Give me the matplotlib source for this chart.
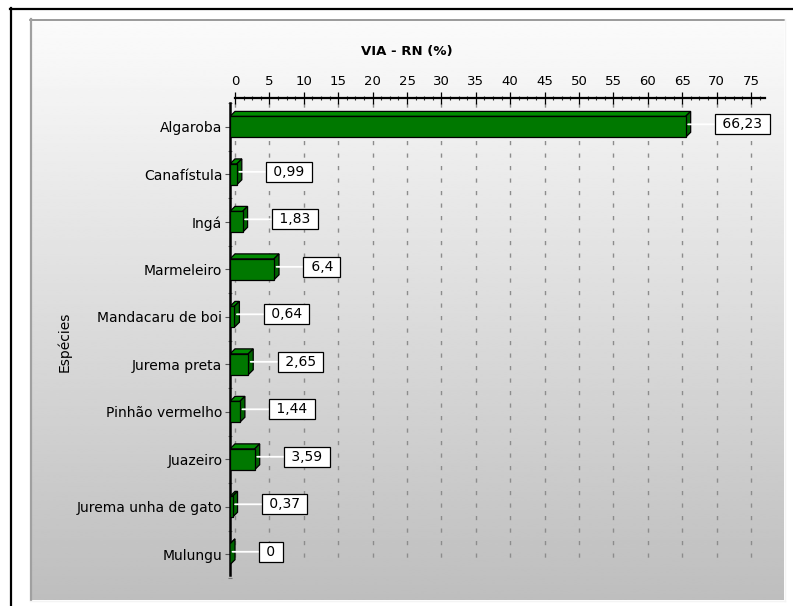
import numpy as np
import matplotlib
matplotlib.use("Agg")
import matplotlib.pyplot as plt
from matplotlib.patches import Rectangle, Polygon
from matplotlib.lines import Line2D

# --- data ---------------------------------------------------------------
especies = [
    "Algaroba", "Canafístula", "Ingá", "Marmeleiro", "Mandacaru de boi",
    "Jurema preta", "Pinhão vermelho", "Juazeiro", "Jurema unha de gato",
    "Mulungu",
]
via_rn = [66.23, 0.99, 1.83, 6.4, 0.64, 2.65, 1.44, 3.59, 0.37, 0.0]
x_ticks = [0, 5, 10, 15, 20, 25, 30, 35, 40, 45, 50, 55, 60, 65, 70, 75]

titulo = "VIA - RN (%)"
rotulo_y = "Espécies"

# --- figure / layout (pixel helpers) -----------------------------------
W, H, DPI = 793, 606, 100
plt.rcParams["font.family"] = ["DejaVu Sans"]
FS = 10

fig = plt.figure(figsize=(W / DPI, H / DPI), dpi=DPI)
fig.patch.set_facecolor("white")


def fx(px):
    return px / W


def fy(py):
    return 1 - py / H


# background layer: gradient panel + frame
bg = fig.add_axes([0, 0, 1, 1], zorder=-10)
bg.set_xlim(0, W)
bg.set_ylim(H, 0)
bg.axis("off")
grad = np.linspace(0.985, 0.745, 256).reshape(-1, 1)
bg.imshow(grad, cmap="gray", vmin=0, vmax=1, aspect="auto",
          extent=(30, 784, 600, 19), interpolation="bilinear")
bg.add_line(Line2D([30, 784], [19.5, 19.5], color="#8a8a8a", lw=1.2))
bg.add_line(Line2D([31, 31], [19, 600], color="#a0a0a0", lw=1.6))
bg.add_line(Line2D([30, 785], [600.5, 600.5], color="#f4f4f4", lw=1.0))
bg.add_line(Line2D([784.5, 784.5], [19, 601], color="#f4f4f4", lw=1.0))
bg.add_line(Line2D([10.5, 10.5], [8, H], color="black", lw=1.6))
bg.add_line(Line2D([10, W], [8.5, 8.5], color="black", lw=1.6))

# main plotting area
AX_L, AX_R, AX_T, AX_B = 230, 765, 98, 578
ax = fig.add_axes([fx(AX_L), fy(AX_B), (AX_R - AX_L) / W, (AX_B - AX_T) / H])
ax.set_facecolor("none")

ZERO_PX = 235          # x-position of the value 0 on the back plane
PX_PER_UNIT = (751 - 235) / 75.0
ROW0_PX, ROW_STEP = 127, 47.8

ax.set_xlim((AX_L - ZERO_PX) / PX_PER_UNIT, (AX_R - ZERO_PX) / PX_PER_UNIT)
ax.set_ylim((AX_B - ROW0_PX) / ROW_STEP, (AX_T - ROW0_PX) / ROW_STEP)

DEPTH_PX = 5
dx = DEPTH_PX / PX_PER_UNIT
dy = DEPTH_PX / ROW_STEP
bar_h = 21 / ROW_STEP

front_c, top_c, side_c = "#007800", "#008a00", "#006400"

# dashed grid (back plane)
y_grid_top = (103 - ROW0_PX) / ROW_STEP
y_grid_bot = (565 - ROW0_PX) / ROW_STEP
for t in x_ticks:
    ax.add_line(Line2D([t, t], [y_grid_top, y_grid_bot], color="#8c8c8c",
                       lw=1.0, linestyle=(0, (3, 6)), zorder=1))

# 3-D bars
for i, v in enumerate(via_rn):
    y0, y1 = i - bar_h / 2, i + bar_h / 2
    ax.add_patch(Polygon([(-dx, y0), (v - dx, y0), (v, y0 - dy), (0, y0 - dy)],
                         closed=True, fc=top_c, ec="black", lw=0.9, zorder=3))
    ax.add_patch(Polygon([(v - dx, y0), (v, y0 - dy), (v, y1 - dy), (v - dx, y1)],
                         closed=True, fc=side_c, ec="black", lw=0.9, zorder=3))
    if v > 0:
        ax.add_patch(Rectangle((-dx, y0), v, bar_h, fc=front_c, ec="black",
                               lw=0.9, zorder=4))
    label = " " + f"{v:g}".replace(".", ",") + " "
    ax.annotate(label, xy=(v - dx / 2, i - dy / 2),
                xytext=(30 * 72 / DPI, 0), textcoords="offset points",
                ha="left", va="center", fontsize=FS, zorder=6,
                bbox=dict(boxstyle="square,pad=0.22", fc="white", ec="black", lw=0.9),
                arrowprops=dict(arrowstyle="-", color="white", lw=1.3,
                                shrinkA=0, shrinkB=0))

# axes styling
for s in ("right", "bottom"):
    ax.spines[s].set_visible(False)
ax.spines["top"].set_linewidth(1.6)
ax.spines["top"].set_bounds(0, (AX_R - ZERO_PX) / PX_PER_UNIT)
ax.spines["left"].set_linewidth(1.8)
ax.spines["left"].set_position(("data", -dx))
ax.spines["left"].set_bounds((AX_B - ROW0_PX) / ROW_STEP, (103 - ROW0_PX) / ROW_STEP)

ax.xaxis.tick_top()
ax.set_xticks(x_ticks)
ax.set_xticklabels([str(t) for t in x_ticks])
ax.set_xticks(np.arange(0, 77, 1.25), minor=True)
ax.tick_params(axis="x", which="major", direction="inout", length=8, width=0.9,
               colors="black", labelsize=9.5, pad=3.5)
ax.tick_params(axis="x", which="minor", direction="inout", length=3, width=0.8,
               colors="#333333")

ax.set_yticks(range(len(especies)))
ax.set_yticklabels(especies)
ax.set_yticks(np.arange(-0.5, len(especies), 1.0), minor=True)
ax.tick_params(axis="y", which="major", direction="out", length=3.5, width=0.8,
               color="#555555", labelcolor="black", labelsize=FS, pad=2)
ax.tick_params(axis="y", which="minor", direction="inout", length=3, width=0.8,
               color="#777777")

fig.text(fx(407), fy(52), titulo, ha="center", va="center",
         fontsize=9.5, fontweight="bold")
fig.text(fx(64), fy(342), rotulo_y, ha="center", va="center",
         fontsize=FS, rotation=90)

fig.savefig("out.png", dpi=DPI)
